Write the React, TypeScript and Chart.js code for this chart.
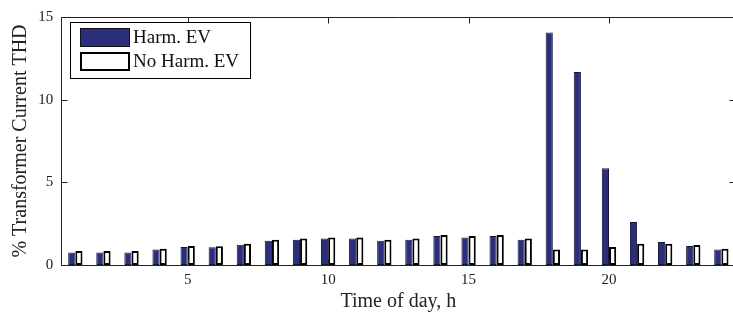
import React, { useEffect, useRef } from 'react';
import { Chart, registerables } from 'chart.js';

Chart.register(...registerables);

// ---- data ----
const hours = ['1','2','3','4','5','6','7','8','9','10','11','12','13','14','15','16','17','18','19','20','21','22','23','24'];
const harmEV = [0.76,0.76,0.76,0.93,1.09,1.07,1.23,1.47,1.53,1.6,1.6,1.47,1.53,1.75,1.67,1.75,1.53,14.07,11.67,5.85,2.6,1.39,1.15,0.93];
const noHarmEV = [0.85,0.85,0.85,0.99,1.15,1.13,1.29,1.53,1.6,1.67,1.67,1.53,1.6,1.82,1.75,1.82,1.6,0.93,0.93,1.09,1.29,1.29,1.21,0.99];
const xTickLabels = ['5','10','15','20'];
const yTicks = [0, 5, 10, 15];
const seriesLabels = ['Harm. EV', 'No Harm. EV'];
const xTitle = 'Time of day, h';
const yTitle = '% Transformer Current THD';

const FONT = "'Liberation Serif', 'Times New Roman', serif";
const NAVY = '#2b2e7a';
const INK = '#222';

const framePlugin = {
  id: 'matlabFrame',
  afterDraw(chart: any) {
    const { ctx, chartArea, scales } = chart;
    const { left, right, top, bottom } = chartArea;
    const L = Math.round(left) + 0.5;
    const R = Math.round(right) + 0.5;
    const T = Math.round(top) + 0.5;
    const B = Math.round(bottom) + 0.5;
    const tl = 6;
    ctx.save();
    ctx.strokeStyle = INK;
    ctx.lineWidth = 1;
    ctx.beginPath();
    ctx.moveTo(L, T); ctx.lineTo(R, T); ctx.lineTo(R, B); ctx.lineTo(L, B); ctx.closePath();
    xTickLabels.forEach((lab) => {
      const i = hours.indexOf(lab);
      const px = Math.round(scales.x.getPixelForValue(i)) + 0.5;
      ctx.moveTo(px, B); ctx.lineTo(px, B - tl);
      ctx.moveTo(px, T); ctx.lineTo(px, T + tl);
    });
    yTicks.forEach((v) => {
      const py = Math.round(scales.y.getPixelForValue(v)) + 0.5;
      ctx.moveTo(L, py); ctx.lineTo(L + tl, py);
      ctx.moveTo(R, py); ctx.lineTo(R - tl, py);
    });
    ctx.stroke();

    // legend
    const bx = 70.5, by = 22.5, bw = 180, bh = 56;
    ctx.fillStyle = '#fff';
    ctx.fillRect(bx, by, bw, bh);
    ctx.strokeStyle = '#000';
    ctx.lineWidth = 1;
    ctx.strokeRect(bx, by, bw, bh);
    ctx.fillStyle = NAVY;
    ctx.fillRect(80, 28, 50, 19);
    ctx.strokeStyle = '#111';
    ctx.lineWidth = 1;
    ctx.strokeRect(80.5, 28.5, 49, 18);
    ctx.fillStyle = '#fff';
    ctx.fillRect(80, 52, 50, 19);
    ctx.strokeStyle = '#000';
    ctx.lineWidth = 2;
    ctx.strokeRect(81, 53, 48, 17);
    ctx.fillStyle = '#111';
    ctx.font = `19px ${FONT}`;
    ctx.textBaseline = 'middle';
    ctx.textAlign = 'left';
    ctx.fillText(chart.data.datasets[0].label, 133, 38);
    ctx.fillText(chart.data.datasets[1].label, 133, 62);
    ctx.restore();
  },
};

export default function App() {
  const ref = useRef<HTMLCanvasElement>(null);
  useEffect(() => {
    if (!ref.current) return;
    const chart = new Chart(ref.current, {
      type: 'bar',
      data: {
        labels: hours,
        datasets: [
          {
            label: seriesLabels[0],
            data: harmEV,
            backgroundColor: NAVY,
            borderColor: '#15163d',
            borderWidth: 1,
            borderSkipped: false,
            categoryPercentage: 0.51,
            barPercentage: 1,
          },
          {
            label: seriesLabels[1],
            data: noHarmEV,
            backgroundColor: '#fff',
            borderColor: '#000',
            borderWidth: 2,
            borderSkipped: false,
            categoryPercentage: 0.51,
            barPercentage: 1,
          },
        ],
      },
      options: {
        responsive: false,
        animation: false,
        devicePixelRatio: 1,
        layout: { padding: { left: 0, top: 13, right: 9.6, bottom: 0 } },
        plugins: { legend: { display: false }, tooltip: { enabled: false }, title: { display: false } },
        scales: {
          x: {
            type: 'category',
            offset: true,
            grid: { display: false, drawTicks: false },
            border: { display: false },
            ticks: {
              autoSkip: false,
              maxRotation: 0,
              padding: 6,
              color: INK,
              font: { family: FONT, size: 15 },
              callback: (_v: any, idx: number) => (xTickLabels.includes(hours[idx]) ? hours[idx] : ''),
            },
            title: {
              display: true,
              text: xTitle,
              color: INK,
              font: { family: FONT, size: 20 },
              padding: { top: 0, bottom: 3 },
            },
            afterFit: (s: any) => { s.height = 52; },
          },
          y: {
            min: 0,
            max: 15,
            grid: { display: false, drawTicks: false },
            border: { display: false },
            ticks: {
              stepSize: 5,
              padding: 8,
              color: INK,
              font: { family: FONT, size: 15 },
            },
            title: {
              display: true,
              text: yTitle,
              color: INK,
              font: { family: FONT, size: 20 },
              padding: { top: 9, bottom: 0 },
            },
            afterFit: (s: any) => { s.width = 61.3; },
          },
        },
      } as any,
      plugins: [framePlugin],
    });
    return () => chart.destroy();
  }, []);
  return (
    <div style={{ position: 'fixed', left: 0, top: 0, width: 733, height: 317, overflow: 'hidden', background: '#fff' }}>
      <canvas ref={ref} width={745} height={317} style={{ display: 'block', width: 745, height: 317 }} />
    </div>
  );
}
